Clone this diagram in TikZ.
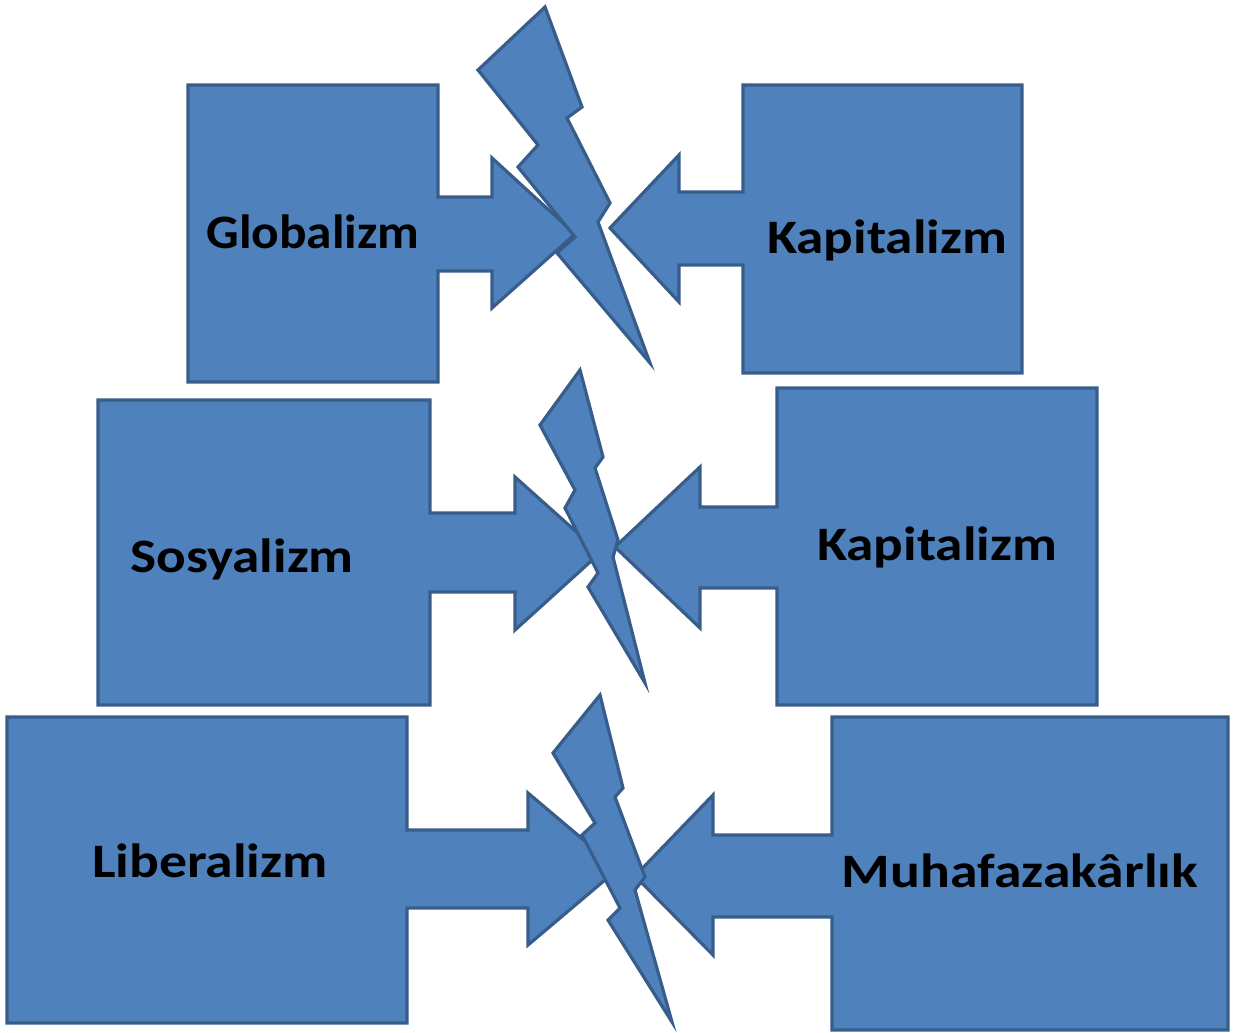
\documentclass[tikz,border=0pt]{standalone}
\usepackage{fontspec}
\setmainfont{Carlito}
\definecolor{boxfill}{HTML}{4F81BD}
\definecolor{boxline}{HTML}{385D8A}
\newcommand\wlbl[2]{\scalebox{#1}[1]{#2}}
\begin{document}
\begin{tikzpicture}[x=1pt,y=-1pt,
  blueshape/.style={fill=boxfill,draw=boxline,line width=3.2pt,line join=miter},
  lbl/.style={anchor=base,inner sep=0pt,font=\fontsize{48}{56}\selectfont\bfseries,text=black}]
\useasboundingbox (0,0) rectangle (1234,1033);
% ---------- Row 1 ----------
\path[blueshape] (188,85) -- (438,85) -- (438,197) -- (492,197) -- (492,158) -- (575,234)
  -- (492,308) -- (492,271) -- (438,271) -- (438,382) -- (188,382) -- cycle;
\path[blueshape] (1022,85) -- (743,85) -- (743,192) -- (679,192) -- (679,155) -- (610,228)
  -- (679,302) -- (679,265) -- (743,265) -- (743,373) -- (1022,373) -- cycle;
\path[blueshape] (545,7) -- (478,70) -- (538,145) -- (518,167) -- (575,237) -- (557,253)
  -- (650,363) -- (598,222) -- (610,203) -- (567,118) -- (582,107) -- cycle;
\node[lbl] (glob) at (313,248) {\wlbl{1.07}{Globalizm}};
\node[lbl] (kap1) at (887,253) {\wlbl{1.15}{Kapitalizm}};
% ---------- Row 2 ----------
\path[blueshape] (98,400) -- (430,400) -- (430,513) -- (515,513) -- (515,477) -- (600,553)
  -- (515,630) -- (515,592) -- (430,592) -- (430,705) -- (98,705) -- cycle;
\path[blueshape] (1097,388) -- (777,388) -- (777,507) -- (700,507) -- (700,467) -- (615,547)
  -- (700,628) -- (700,588) -- (777,588) -- (777,705) -- (1097,705) -- cycle;
\path[blueshape] (580,370) -- (540,425) -- (575,490) -- (565,508) -- (598,573) -- (588,587)
  -- (645,683) -- (613,557) -- (618,540) -- (595,468) -- (603,457) -- cycle;
\node[lbl] (sos) at (242,572) {\wlbl{1.15}{Sosyalizm}};
\node[lbl] (kap2) at (937,560) {\wlbl{1.15}{Kapitalizm}};
% ---------- Row 3 ----------
\path[blueshape] (7,717) -- (407,717) -- (407,830) -- (528,830) -- (528,793) -- (618,869)
  -- (528,945) -- (528,908) -- (407,908) -- (407,1023) -- (7,1023) -- cycle;
\path[blueshape] (1228,717) -- (832,717) -- (832,835) -- (713,835) -- (713,795) -- (635,876)
  -- (713,955) -- (713,917) -- (832,917) -- (832,1030) -- (1228,1030) -- cycle;
\path[blueshape] (600,695) -- (553,753) -- (595,823) -- (582,835) -- (620,908) -- (608,920)
  -- (672,1022) -- (635,890) -- (645,877) -- (615,797) -- (623,788) -- cycle;
\node[lbl] (lib) at (210,877) {\wlbl{1.16}{Liberalizm}};
\node[lbl] (muh) at (1020,887) {\wlbl{1.16}{Muhafazakârlık}};
\end{tikzpicture}
\end{document}
